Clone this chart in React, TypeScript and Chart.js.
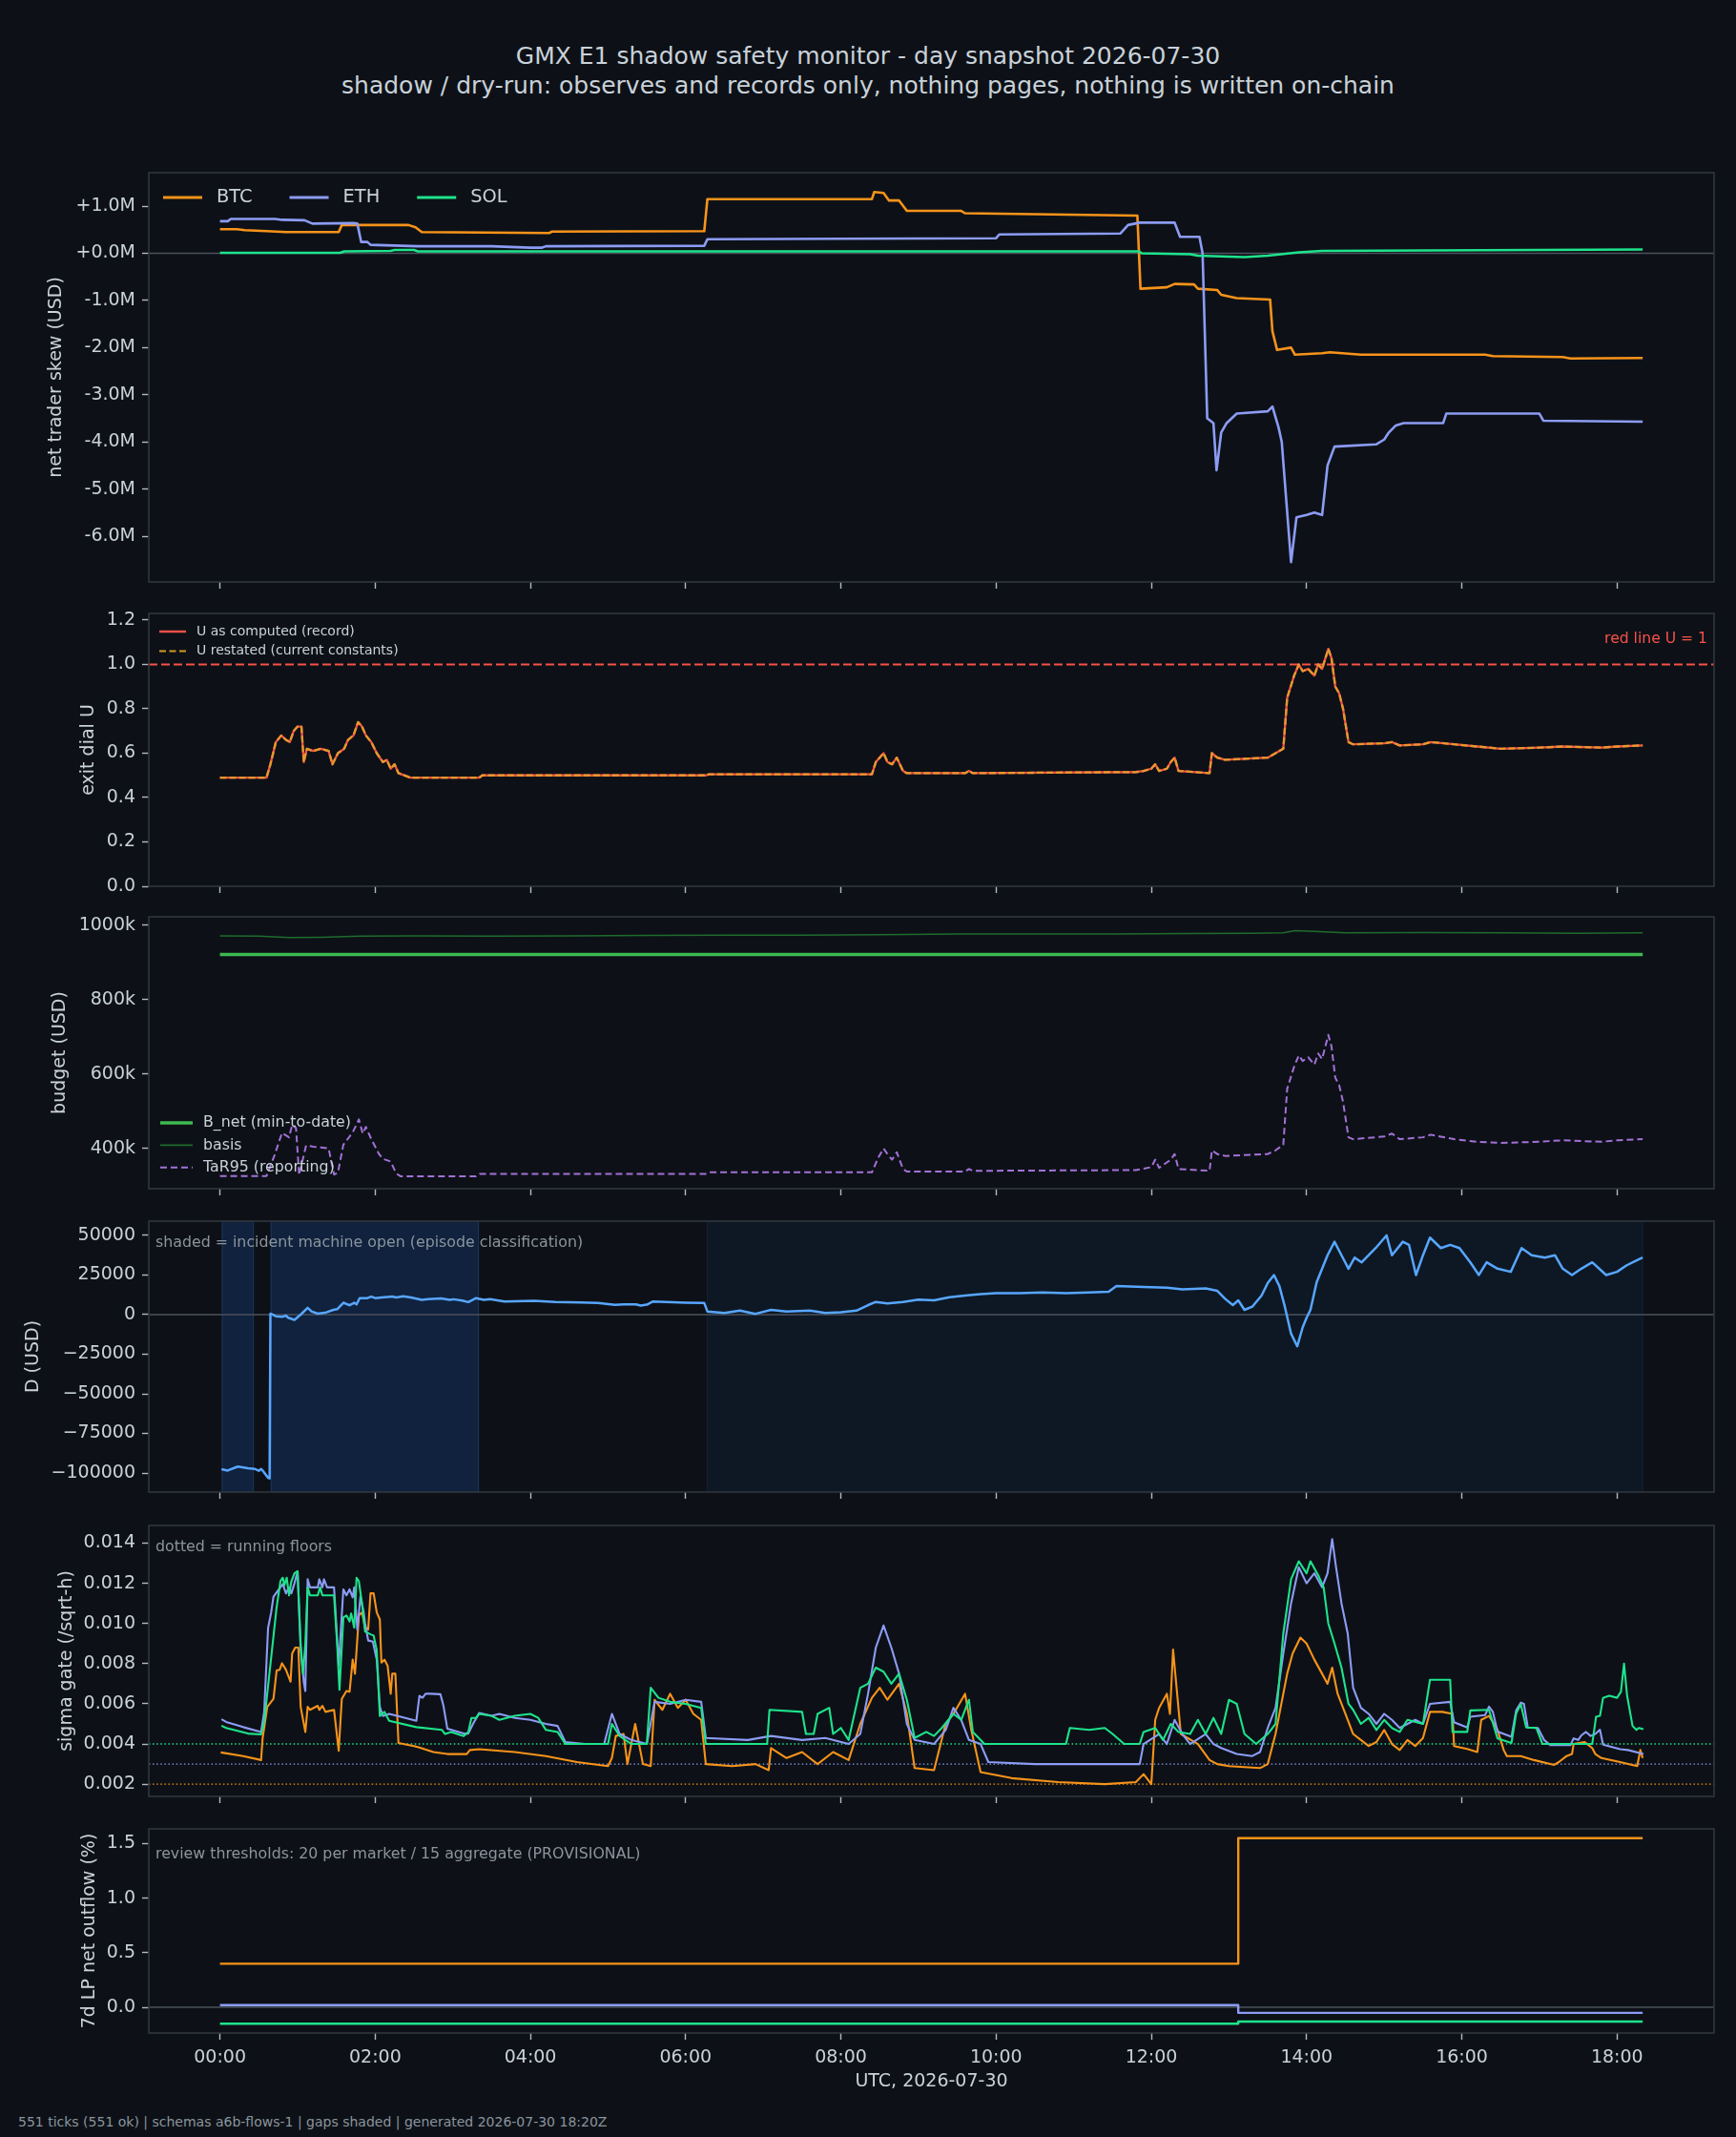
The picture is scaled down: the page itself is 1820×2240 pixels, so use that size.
import React, { useEffect, useRef } from 'react';
import { Chart, registerables } from 'chart.js';

Chart.register(...registerables);

type Pt = [number, number];

// ---------------------------------------------------------------------------
// data: x = hours since 00:00 UTC on 2026-07-30
// ---------------------------------------------------------------------------
const HOUR_TICKS = [0, 2, 4, 6, 8, 10, 12, 14, 16, 18];
const HOUR_LABELS = ['00:00', '02:00', '04:00', '06:00', '08:00', '10:00', '12:00', '14:00', '16:00', '18:00'];

// net trader skew, $M
const SKEW_TICKS = [-6, -5, -4, -3, -2, -1, 0, 1];
const SKEW_BTC: Pt[] = [
  [0, 0.51], [0.22, 0.51], [0.32, 0.49], [0.6, 0.47], [0.85, 0.45], [1.53, 0.45], [1.57, 0.6], [2.43, 0.6],
  [2.52, 0.55], [2.6, 0.45], [4.24, 0.43], [4.28, 0.46], [6.24, 0.47], [6.28, 1.15], [8.4, 1.15], [8.43, 1.3],
  [8.55, 1.28], [8.62, 1.12], [8.75, 1.12], [8.85, 0.9], [9.55, 0.9], [9.6, 0.85], [11.82, 0.8], [11.86, -0.75],
  [12.2, -0.72], [12.3, -0.65], [12.55, -0.66], [12.6, -0.75], [12.85, -0.78], [12.9, -0.88], [13.1, -0.95],
  [13.53, -0.98], [13.56, -1.65], [13.62, -2.05], [13.8, -2.0], [13.85, -2.15], [14.2, -2.12], [14.3, -2.1],
  [14.7, -2.15], [16.3, -2.15], [16.4, -2.18], [17.3, -2.2], [17.4, -2.23], [18.33, -2.22],
];
const SKEW_ETH: Pt[] = [
  [0, 0.68], [0.1, 0.68], [0.14, 0.73], [0.71, 0.73], [0.8, 0.71], [1.09, 0.7], [1.19, 0.63], [1.72, 0.64],
  [1.77, 0.63], [1.82, 0.24], [1.9, 0.24], [1.94, 0.18], [2.55, 0.15], [3.5, 0.15], [4.0, 0.12], [4.15, 0.12],
  [4.2, 0.15], [6.24, 0.16], [6.28, 0.3], [8.0, 0.31], [10.0, 0.32], [10.04, 0.4], [11.6, 0.42], [11.7, 0.6],
  [11.85, 0.65], [12.3, 0.65], [12.37, 0.35], [12.62, 0.35], [12.66, 0.0], [12.72, -3.5], [12.8, -3.6],
  [12.84, -4.6], [12.9, -3.8], [12.97, -3.6], [13.1, -3.4], [13.5, -3.35], [13.56, -3.25], [13.64, -3.7],
  [13.68, -4.0], [13.8, -6.55], [13.87, -5.6], [14.0, -5.55], [14.1, -5.5], [14.2, -5.55], [14.27, -4.5],
  [14.36, -4.1], [14.9, -4.05], [15.0, -3.95], [15.06, -3.8], [15.15, -3.65], [15.25, -3.6], [15.76, -3.6],
  [15.8, -3.4], [17.0, -3.4], [17.05, -3.55], [18.33, -3.57],
];
const SKEW_SOL: Pt[] = [
  [0, 0.01], [1.55, 0.01], [1.6, 0.04], [2.2, 0.05], [2.25, 0.07], [2.5, 0.07], [2.55, 0.04], [11.84, 0.04],
  [11.88, 0.0], [12.5, -0.02], [12.6, -0.05], [13.2, -0.08], [13.5, -0.05], [13.9, 0.02], [14.2, 0.05],
  [18.33, 0.08],
];

// exit dial U
const U_TICKS = [0, 0.2, 0.4, 0.6, 0.8, 1.0, 1.2];
const U_RED_LINE = 1.0;
const U_COMPUTED: Pt[] = [
  [0, 0.49], [0.6, 0.49], [0.65, 0.55], [0.72, 0.65], [0.79, 0.68], [0.85, 0.66], [0.9, 0.65], [0.95, 0.7],
  [1.0, 0.72], [1.05, 0.72], [1.08, 0.56], [1.12, 0.62], [1.2, 0.61], [1.3, 0.62], [1.4, 0.61], [1.45, 0.55],
  [1.52, 0.6], [1.6, 0.62], [1.65, 0.66], [1.72, 0.68], [1.78, 0.74], [1.83, 0.72], [1.88, 0.68], [1.95, 0.65],
  [2.02, 0.6], [2.1, 0.56], [2.15, 0.57], [2.2, 0.53], [2.25, 0.55], [2.3, 0.51], [2.45, 0.49], [3.34, 0.49],
  [3.38, 0.5], [6.26, 0.5], [6.3, 0.505], [8.4, 0.505], [8.45, 0.56], [8.55, 0.6], [8.6, 0.56], [8.66, 0.55],
  [8.72, 0.58], [8.8, 0.52], [8.85, 0.51], [9.6, 0.51], [9.65, 0.52], [9.7, 0.51], [11.8, 0.515], [11.9, 0.52],
  [12.0, 0.53], [12.05, 0.55], [12.1, 0.52], [12.2, 0.53], [12.25, 0.56], [12.3, 0.58], [12.35, 0.52],
  [12.75, 0.51], [12.78, 0.6], [12.85, 0.58], [12.95, 0.57], [13.5, 0.58], [13.6, 0.6], [13.7, 0.62],
  [13.75, 0.85], [13.84, 0.95], [13.9, 1.0], [13.95, 0.97], [14.02, 0.98], [14.1, 0.95], [14.15, 1.0],
  [14.2, 0.98], [14.28, 1.07], [14.32, 1.03], [14.37, 0.9], [14.42, 0.87], [14.47, 0.8], [14.54, 0.65],
  [14.6, 0.64], [15.0, 0.645], [15.1, 0.65], [15.2, 0.635], [15.5, 0.64], [15.6, 0.65], [15.9, 0.64],
  [16.2, 0.63], [16.5, 0.62], [17.0, 0.625], [17.3, 0.63], [17.8, 0.625], [18.0, 0.63], [18.33, 0.635],
];
const U_RESTATED: Pt[] = U_COMPUTED;

// budget, $k
const BUDGET_TICKS = [400, 600, 800, 1000];
const B_NET: Pt[] = [[0, 921], [18.33, 921]];
const BASIS: Pt[] = [
  [0, 971], [0.5, 970], [0.9, 966], [1.3, 967], [1.8, 970], [2.5, 971], [3.5, 970], [4.5, 971], [5.5, 972],
  [6.5, 973], [7.5, 973], [8.5, 974], [9.5, 976], [10.5, 976], [11.5, 976], [12.5, 977], [13.3, 978],
  [13.7, 979], [13.85, 985], [14.1, 983], [14.5, 979], [15.5, 980], [16.5, 979], [17.5, 978], [18.33, 979],
];
const TAR95: Pt[] = [
  [0, 326], [0.6, 326], [0.7, 380], [0.8, 442], [0.89, 430], [0.93, 463], [0.98, 455], [1.02, 329],
  [1.11, 408], [1.2, 405], [1.3, 403], [1.4, 400], [1.47, 330], [1.52, 335], [1.59, 410], [1.71, 443],
  [1.79, 478], [1.84, 440], [1.88, 458], [1.95, 425], [2.05, 385], [2.1, 372], [2.2, 365], [2.27, 333],
  [2.33, 325], [3.3, 325], [3.35, 332], [6.26, 332], [6.3, 336], [8.4, 336], [8.48, 375], [8.55, 400],
  [8.6, 385], [8.66, 370], [8.72, 390], [8.8, 345], [8.85, 338], [9.6, 338], [9.65, 345], [9.7, 340],
  [11.8, 342], [12.0, 350], [12.05, 370], [12.1, 348], [12.25, 370], [12.3, 385], [12.35, 345], [12.75, 340],
  [12.78, 395], [12.85, 385], [12.95, 380], [13.5, 385], [13.6, 395], [13.7, 410], [13.75, 560], [13.84, 620],
  [13.9, 650], [13.95, 635], [14.02, 645], [14.1, 625], [14.15, 655], [14.2, 640], [14.28, 705], [14.32, 675],
  [14.37, 590], [14.42, 570], [14.47, 525], [14.54, 430], [14.6, 425], [15.0, 432], [15.1, 440], [15.2, 425],
  [15.5, 430], [15.6, 437], [15.9, 425], [16.2, 418], [16.5, 415], [17.0, 418], [17.3, 422], [17.8, 418],
  [18.0, 422], [18.33, 425],
];

// D, USD
const D_TICKS = [-100000, -75000, -50000, -25000, 0, 25000, 50000];
const D_VALUES: Pt[] = [
  [0.02, -97500], [0.1, -98400], [0.23, -95900], [0.36, -97000], [0.45, -97400], [0.5, -98600], [0.53, -97400],
  [0.56, -99000], [0.62, -103000], [0.64, -103400], [0.65, 600], [0.72, -1000], [0.8, -1400], [0.85, -600],
  [0.88, -2000], [0.96, -3300], [1.04, 0], [1.13, 4300], [1.18, 2000], [1.26, 600], [1.37, 1400], [1.46, 3000],
  [1.51, 3400], [1.59, 7500], [1.67, 5900], [1.73, 7500], [1.76, 6500], [1.8, 10400], [1.9, 10400],
  [1.95, 11400], [2.0, 10400], [2.08, 10800], [2.16, 11200], [2.22, 11400], [2.27, 10800], [2.36, 11600],
  [2.46, 10800], [2.6, 9300], [2.68, 9800], [2.85, 10200], [2.96, 9300], [3.01, 9700], [3.12, 8900],
  [3.2, 7900], [3.3, 10400], [3.4, 9300], [3.48, 9800], [3.59, 8900], [3.67, 8300], [4.05, 8700],
  [4.32, 7900], [4.65, 7700], [4.87, 7300], [5.09, 6100], [5.2, 6500], [5.36, 6500], [5.42, 5700],
  [5.5, 6300], [5.58, 8300], [5.75, 7900], [6.0, 7500], [6.24, 7300], [6.28, 2000], [6.5, 1000],
  [6.7, 2500], [6.9, 500], [7.1, 3000], [7.3, 2000], [7.6, 2500], [7.8, 1000], [8.0, 1500], [8.2, 2500],
  [8.35, 6000], [8.45, 8000], [8.6, 7000], [8.8, 8000], [9.0, 9500], [9.2, 9000], [9.4, 11000], [9.6, 12000],
  [9.8, 13000], [10.0, 13500], [10.3, 13500], [10.6, 14000], [10.9, 13500], [11.2, 14000], [11.45, 14500],
  [11.55, 18000], [11.9, 17500], [12.2, 17000], [12.4, 16000], [12.7, 16500], [12.85, 15000], [12.95, 10000],
  [13.05, 6000], [13.12, 9000], [13.2, 3000], [13.3, 5000], [13.42, 12000], [13.5, 20000], [13.58, 25000],
  [13.65, 18000], [13.72, 5000], [13.8, -12000], [13.88, -20000], [13.95, -8000], [14.0, -2000], [14.05, 3000],
  [14.13, 20500], [14.27, 37500], [14.36, 46000], [14.45, 37500], [14.54, 29000], [14.62, 36000],
  [14.71, 33000], [14.89, 42000], [15.03, 50000], [15.1, 37500], [15.24, 46000], [15.32, 44000],
  [15.41, 25000], [15.5, 37500], [15.59, 48600], [15.73, 42000], [15.85, 44000], [15.97, 42000],
  [16.11, 33000], [16.22, 25000], [16.32, 33000], [16.46, 29000], [16.63, 27000], [16.77, 42000],
  [16.9, 37500], [17.07, 36000], [17.2, 37500], [17.3, 29000], [17.42, 25000], [17.54, 29000], [17.68, 33000],
  [17.86, 25000], [18.0, 27000], [18.12, 31000], [18.24, 34000], [18.33, 36000],
];
// incident machine open, [from, to] hours
const INCIDENT_OPEN: Pt[] = [[0.03, 0.43], [0.66, 3.33]];
const INCIDENT_WATCH: Pt[] = [[6.28, 18.33]];

// sigma gate, /sqrt-h
const SIGMA_TICKS = [0.002, 0.004, 0.006, 0.008, 0.01, 0.012, 0.014];
const FLOOR_BTC = 0.002;
const FLOOR_ETH = 0.003;
const FLOOR_SOL = 0.004;
const SIGMA_BTC: Pt[] = [
  [0.01, 0.00358], [0.3, 0.0034], [0.53, 0.0032], [0.55, 0.0043], [0.61, 0.00585], [0.69, 0.00625],
  [0.73, 0.00766], [0.77, 0.0077], [0.8, 0.00802], [0.85, 0.0077], [0.91, 0.0071], [0.93, 0.0085],
  [0.97, 0.0088], [1.01, 0.0088], [1.04, 0.00585], [1.1, 0.0046], [1.13, 0.00585], [1.16, 0.0057],
  [1.26, 0.0059], [1.28, 0.0057], [1.32, 0.0059], [1.36, 0.0056], [1.47, 0.0057], [1.53, 0.00366],
  [1.57, 0.00625], [1.63, 0.00664], [1.67, 0.0066], [1.71, 0.0082], [1.74, 0.0075], [1.79, 0.0104],
  [1.83, 0.01055], [1.87, 0.0098], [1.91, 0.0097], [1.94, 0.0115], [1.98, 0.0115], [2.02, 0.01055],
  [2.06, 0.0102], [2.08, 0.00805], [2.12, 0.0082], [2.16, 0.0079], [2.2, 0.0065], [2.22, 0.0075],
  [2.26, 0.0075], [2.3, 0.00405], [2.5, 0.0039], [2.57, 0.00382], [2.75, 0.0036], [2.93, 0.0035],
  [3.18, 0.0035], [3.22, 0.0037], [3.34, 0.00374], [3.8, 0.0036], [4.2, 0.0034], [4.6, 0.0031],
  [5.0, 0.0029], [5.05, 0.0033], [5.1, 0.0044], [5.2, 0.0045], [5.25, 0.003], [5.35, 0.005], [5.45, 0.003],
  [5.55, 0.0029], [5.6, 0.0062], [5.7, 0.0057], [5.8, 0.0065], [5.9, 0.0058], [6.0, 0.0062], [6.1, 0.0055],
  [6.2, 0.0052], [6.26, 0.003], [6.6, 0.0029], [6.9, 0.003], [7.07, 0.0027], [7.1, 0.0038], [7.3, 0.0033],
  [7.5, 0.0036], [7.7, 0.003], [7.9, 0.0036], [8.1, 0.0032], [8.25, 0.005], [8.4, 0.0063], [8.5, 0.0068],
  [8.6, 0.0062], [8.75, 0.007], [8.85, 0.0055], [8.95, 0.0028], [9.2, 0.0027], [9.35, 0.005], [9.45, 0.0055],
  [9.6, 0.0065], [9.68, 0.0047], [9.8, 0.0026], [10.2, 0.0023], [10.8, 0.0021], [11.4, 0.002], [11.8, 0.0021],
  [11.9, 0.0025], [12.0, 0.002], [12.05, 0.0052], [12.1, 0.0058], [12.2, 0.0065], [12.24, 0.0055],
  [12.28, 0.0087], [12.38, 0.0045], [12.6, 0.004], [12.75, 0.0032], [12.85, 0.003], [13.0, 0.0029],
  [13.4, 0.0028], [13.5, 0.003], [13.6, 0.0045], [13.75, 0.0075], [13.82, 0.0085], [13.92, 0.0093],
  [14.0, 0.009], [14.1, 0.0082], [14.2, 0.0075], [14.27, 0.007], [14.33, 0.0078], [14.4, 0.0065],
  [14.5, 0.0055], [14.6, 0.0045], [14.7, 0.0042], [14.8, 0.0039], [14.9, 0.0041], [15.0, 0.0047],
  [15.1, 0.004], [15.2, 0.0037], [15.3, 0.0042], [15.4, 0.0039], [15.5, 0.0043], [15.59, 0.0056],
  [15.75, 0.0056], [15.88, 0.0055], [15.9, 0.0039], [16.07, 0.00375], [16.2, 0.0036], [16.25, 0.0052],
  [16.35, 0.0054], [16.4, 0.0051], [16.46, 0.0047], [16.54, 0.0037], [16.58, 0.0034], [16.76, 0.0034],
  [16.93, 0.0032], [17.19, 0.00296], [17.25, 0.0031], [17.35, 0.0034], [17.42, 0.0035], [17.44, 0.004],
  [17.58, 0.0041], [17.68, 0.0038], [17.72, 0.0035], [17.8, 0.0033], [18.04, 0.0031], [18.26, 0.0029],
  [18.3, 0.0037], [18.33, 0.0033],
];
const SIGMA_ETH: Pt[] = [
  [0.02, 0.00523], [0.08, 0.0051], [0.3, 0.00484], [0.53, 0.0046], [0.57, 0.0056], [0.62, 0.00977],
  [0.66, 0.01055], [0.69, 0.01134], [0.75, 0.01165], [0.81, 0.01196], [0.85, 0.0115], [0.89, 0.0118],
  [0.92, 0.0115], [0.96, 0.012], [1.0, 0.0126], [1.04, 0.00867], [1.08, 0.0071], [1.1, 0.00664], [1.13, 0.0122],
  [1.16, 0.0118], [1.26, 0.0118], [1.28, 0.0122], [1.32, 0.0118], [1.34, 0.0122], [1.38, 0.0118],
  [1.47, 0.0118], [1.53, 0.0079], [1.59, 0.0117], [1.63, 0.0114], [1.67, 0.0117], [1.71, 0.0113],
  [1.73, 0.0118], [1.77, 0.0097], [1.81, 0.01134], [1.85, 0.0106], [1.87, 0.01], [1.91, 0.00915],
  [1.97, 0.0091], [2.02, 0.0082], [2.06, 0.00585], [2.1, 0.00539], [2.18, 0.0055], [2.28, 0.0054],
  [2.53, 0.00515], [2.57, 0.0064], [2.61, 0.0063], [2.65, 0.0065], [2.71, 0.0065], [2.84, 0.00648],
  [2.88, 0.0059], [2.93, 0.00476], [3.14, 0.00452], [3.2, 0.00452], [3.26, 0.005], [3.34, 0.00554],
  [3.5, 0.0054], [3.6, 0.0055], [3.8, 0.0053], [4.0, 0.0052], [4.2, 0.005], [4.35, 0.0049], [4.45, 0.0041],
  [4.7, 0.004], [4.95, 0.004], [5.05, 0.0055], [5.15, 0.0045], [5.3, 0.0042], [5.5, 0.004], [5.6, 0.0061],
  [5.8, 0.006], [6.0, 0.0062], [6.2, 0.0061], [6.26, 0.0043], [6.8, 0.0042], [7.1, 0.0044], [7.5, 0.0042],
  [7.8, 0.0043], [8.1, 0.004], [8.25, 0.0045], [8.35, 0.0065], [8.45, 0.0088], [8.55, 0.0099],
  [8.65, 0.0088], [8.75, 0.0075], [8.85, 0.005], [8.95, 0.0042], [9.2, 0.004], [9.35, 0.0047],
  [9.45, 0.0058], [9.55, 0.0052], [9.65, 0.0042], [9.8, 0.004], [9.9, 0.0031], [10.5, 0.003], [11.0, 0.003],
  [11.5, 0.003], [11.85, 0.003], [11.9, 0.004], [12.1, 0.0045], [12.2, 0.004], [12.3, 0.0052], [12.4, 0.0045],
  [12.5, 0.004], [12.7, 0.0045], [12.8, 0.004], [12.9, 0.0038], [13.1, 0.0035], [13.3, 0.0034],
  [13.4, 0.0036], [13.5, 0.0048], [13.6, 0.0058], [13.7, 0.0085], [13.8, 0.011], [13.9, 0.0128],
  [14.0, 0.012], [14.1, 0.0125], [14.2, 0.0118], [14.27, 0.0125], [14.33, 0.0142], [14.38, 0.0128],
  [14.45, 0.011], [14.53, 0.0095], [14.6, 0.0068], [14.7, 0.0058], [14.8, 0.0055], [14.9, 0.005],
  [15.0, 0.0055], [15.1, 0.0052], [15.2, 0.0048], [15.3, 0.005], [15.4, 0.0052], [15.5, 0.005],
  [15.59, 0.006], [15.85, 0.0061], [15.9, 0.00508], [16.07, 0.00482], [16.11, 0.00536], [16.3, 0.00544],
  [16.35, 0.00586], [16.4, 0.0056], [16.46, 0.00462], [16.64, 0.00436], [16.7, 0.00567], [16.76, 0.00606],
  [16.8, 0.006], [16.85, 0.00482], [16.98, 0.0048], [17.06, 0.0042], [17.14, 0.00394], [17.4, 0.00394],
  [17.44, 0.00428], [17.5, 0.0042], [17.54, 0.00443], [17.6, 0.0046], [17.66, 0.0044], [17.72, 0.0045],
  [17.78, 0.00471], [17.82, 0.00397], [18.04, 0.00374], [18.14, 0.0037], [18.34, 0.0035],
];
const SIGMA_SOL: Pt[] = [
  [0.02, 0.00491], [0.08, 0.0048], [0.36, 0.00452], [0.53, 0.00448], [0.57, 0.0051], [0.73, 0.0108],
  [0.78, 0.01212], [0.81, 0.01228], [0.83, 0.0119], [0.86, 0.01228], [0.89, 0.0114], [0.92, 0.0121],
  [0.96, 0.0125], [1.0, 0.0126], [1.04, 0.00898], [1.07, 0.0075], [1.1, 0.00898], [1.13, 0.0118],
  [1.16, 0.0114], [1.26, 0.0114], [1.29, 0.0118], [1.32, 0.0114], [1.47, 0.0114], [1.51, 0.00898],
  [1.54, 0.0067], [1.59, 0.0103], [1.63, 0.0104], [1.67, 0.0101], [1.69, 0.0105], [1.73, 0.0098],
  [1.76, 0.01228], [1.79, 0.0121], [1.83, 0.011], [1.87, 0.0096], [1.94, 0.00946], [1.98, 0.0094],
  [2.02, 0.00867], [2.06, 0.00539], [2.12, 0.0056], [2.18, 0.00515], [2.53, 0.00484], [2.86, 0.0047],
  [2.9, 0.0045], [2.98, 0.0046], [3.14, 0.0044], [3.2, 0.0046], [3.24, 0.0053], [3.3, 0.0053],
  [3.34, 0.0055], [3.5, 0.0054], [3.6, 0.0052], [3.8, 0.0054], [4.0, 0.0055], [4.1, 0.0053], [4.2, 0.0047],
  [4.35, 0.0046], [4.45, 0.004], [5.0, 0.004], [5.05, 0.005], [5.15, 0.0044], [5.3, 0.004], [5.5, 0.004],
  [5.55, 0.0068], [5.65, 0.0063], [5.8, 0.0061], [6.0, 0.006], [6.2, 0.0058], [6.26, 0.004], [7.05, 0.004],
  [7.08, 0.0057], [7.5, 0.0056], [7.55, 0.0045], [7.65, 0.0045], [7.7, 0.0055], [7.85, 0.0058],
  [7.9, 0.0045], [8.0, 0.0048], [8.1, 0.0042], [8.25, 0.0068], [8.35, 0.007], [8.45, 0.0078], [8.55, 0.0076],
  [8.65, 0.007], [8.75, 0.0075], [8.85, 0.0062], [8.95, 0.0043], [9.1, 0.0046], [9.2, 0.0044], [9.3, 0.0048],
  [9.45, 0.0055], [9.55, 0.0052], [9.65, 0.0062], [9.7, 0.0046], [9.85, 0.004], [10.9, 0.004],
  [10.95, 0.0048], [11.2, 0.0047], [11.4, 0.0048], [11.5, 0.0045], [11.65, 0.004], [11.85, 0.004],
  [11.9, 0.0046], [12.05, 0.0048], [12.15, 0.0042], [12.25, 0.005], [12.35, 0.0046], [12.5, 0.0045],
  [12.6, 0.0052], [12.7, 0.0045], [12.8, 0.0053], [12.9, 0.0045], [13.0, 0.0062], [13.1, 0.006],
  [13.2, 0.0045], [13.35, 0.004], [13.5, 0.0045], [13.6, 0.005], [13.7, 0.0095], [13.8, 0.0122],
  [13.9, 0.0131], [14.0, 0.0125], [14.05, 0.0131], [14.15, 0.0124], [14.22, 0.0118], [14.28, 0.01],
  [14.36, 0.009], [14.45, 0.0078], [14.54, 0.006], [14.6, 0.0057], [14.7, 0.005], [14.8, 0.0053],
  [14.9, 0.0047], [15.0, 0.0052], [15.1, 0.0048], [15.2, 0.0046], [15.3, 0.0052], [15.5, 0.005],
  [15.59, 0.0072], [15.85, 0.0072], [15.88, 0.0046], [16.07, 0.0046], [16.11, 0.00567], [16.35, 0.0057],
  [16.46, 0.00428], [16.64, 0.00405], [16.7, 0.00552], [16.76, 0.00598], [16.83, 0.00482], [16.96, 0.0048],
  [17.04, 0.004], [17.68, 0.004], [17.73, 0.00536], [17.78, 0.0054], [17.82, 0.0063], [17.9, 0.0064],
  [18.0, 0.0063], [18.05, 0.0066], [18.09, 0.008], [18.13, 0.0064], [18.2, 0.0049], [18.25, 0.0047],
  [18.28, 0.0048], [18.34, 0.00474],
];

// 7d LP net outflow, %
const OUTFLOW_TICKS = [0, 0.5, 1.0, 1.5];
const OUTFLOW_BTC: Pt[] = [[0, 0.4], [13.12, 0.4], [13.12, 1.55], [18.33, 1.55]];
const OUTFLOW_ETH: Pt[] = [[0, 0.02], [13.12, 0.02], [13.12, -0.05], [18.33, -0.05]];
const OUTFLOW_SOL: Pt[] = [[0, -0.15], [13.12, -0.15], [13.12, -0.13], [18.33, -0.13]];

// ---------------------------------------------------------------------------
// look and layout
// ---------------------------------------------------------------------------
const W = 1820;
const H = 2240;
const PLOT_L = 156;
const PLOT_R = 1797;
const PAD_T = 30;
const X_MIN = -0.9167;
const X_MAX = 19.25;
const FONT = '"DejaVu Sans", "Liberation Sans", sans-serif';
const TICK_SIZE = 19;

const BG = '#0d1117';
const SPINE = '#30363d';
const TEXT = '#c9d1d9';
const MUTED = '#8b949e';
const TICK = '#b1bac4';
const ZERO = '#4b525c';
const C_BTC = '#f7931a';
const C_ETH = '#8c9cf5';
const C_SOL = '#1ee38c';
const C_RED = '#f85149';
const C_GOLD = '#d29922';
const C_BNET = '#3fb950';
const C_BASIS = '#1f6b2d';
const C_TAR = '#a371d8';
const C_D = '#58a6ff';

type Series = { data: Pt[]; color: string; width: number; dash?: number[] };
type HLine = { y: number; color: string; width: number; dash?: number[] };
type Span = { range: Pt; fill: string; edge: string };
type LegendItem = { label: string; color: string; width: number; dash?: number[] };
type Legend = {
  items: LegendItem[]; x: number; y: number; size: number; handle: number; textPad: number;
  rowGap?: number; colGap?: number; horizontal?: boolean;
};
type Note = { text: string; x: number; y: number; color: string; size: number; align: CanvasTextAlign };
type Panel = {
  key: string; top: number; bottom: number; yMin: number; yMax: number; yTicks: number[];
  fmt: (v: number) => string; yTitle: string; yTitleX: number; series: Series[];
  hlines?: HLine[]; spans?: Span[]; legend?: Legend; notes?: Note[]; xLabels: boolean; xAxisH: number;
};

const minus = (s: string) => s.replace('-', '\u2212');

const PANELS: Panel[] = [
  {
    key: 'skew', top: 181, bottom: 610, yMin: -6.97, yMax: 1.71, yTicks: SKEW_TICKS,
    fmt: (v) => `${v >= 0 ? '+' : '-'}${Math.abs(v).toFixed(1)}M`,
    yTitle: 'net trader skew (USD)', yTitleX: 59,
    series: [
      { data: SKEW_BTC, color: C_BTC, width: 2.6 },
      { data: SKEW_ETH, color: C_ETH, width: 2.6 },
      { data: SKEW_SOL, color: C_SOL, width: 2.6 },
    ],
    hlines: [{ y: 0, color: ZERO, width: 1.5 }],
    legend: {
      items: [
        { label: 'BTC', color: C_BTC, width: 2.8 },
        { label: 'ETH', color: C_ETH, width: 2.8 },
        { label: 'SOL', color: C_SOL, width: 2.8 },
      ],
      x: 171, y: 207, size: 19.4, handle: 41, textPad: 15, colGap: 39, horizontal: true,
    },
    xLabels: false, xAxisH: 26,
  },
  {
    key: 'u', top: 643, bottom: 929, yMin: 0, yMax: 1.23, yTicks: U_TICKS,
    fmt: (v) => v.toFixed(1), yTitle: 'exit dial U', yTitleX: 93,
    series: [
      { data: U_COMPUTED, color: C_RED, width: 2.3 },
      { data: U_RESTATED, color: '#e39a2c', width: 2.3, dash: [7, 3] },
    ],
    hlines: [{ y: U_RED_LINE, color: C_RED, width: 1.8, dash: [9, 4] }],
    legend: {
      items: [
        { label: 'U as computed (record)', color: C_RED, width: 2.4 },
        { label: 'U restated (current constants)', color: C_GOLD, width: 2, dash: [7, 3.5] },
      ],
      x: 167, y: 662, size: 14, handle: 28, textPad: 11, rowGap: 20.4,
    },
    notes: [{ text: 'red line U = 1', x: 1790, y: 670, color: C_RED, size: 15.6, align: 'right' }],
    xLabels: false, xAxisH: 26,
  },
  {
    key: 'budget', top: 961, bottom: 1246, yMin: 292, yMax: 1022, yTicks: BUDGET_TICKS,
    fmt: (v) => `${v}k`, yTitle: 'budget (USD)', yTitleX: 63,
    series: [
      { data: B_NET, color: C_BNET, width: 3.6 },
      { data: BASIS, color: C_BASIS, width: 1.5 },
      { data: TAR95, color: C_TAR, width: 2, dash: [7, 4] },
    ],
    legend: {
      items: [
        { label: 'B_net (min-to-date)', color: C_BNET, width: 3.6 },
        { label: 'basis', color: C_BASIS, width: 1.6 },
        { label: 'TaR95 (reporting)', color: C_TAR, width: 2, dash: [7, 4] },
      ],
      x: 168, y: 1177, size: 15.8, handle: 34, textPad: 11, rowGap: 23.4,
    },
    xLabels: false, xAxisH: 26,
  },
  {
    key: 'd', top: 1280, bottom: 1564, yMin: -112000, yMax: 59000, yTicks: D_TICKS,
    fmt: (v) => minus(String(v)), yTitle: 'D (USD)', yTitleX: 35,
    series: [{ data: D_VALUES, color: C_D, width: 2.5 }],
    hlines: [{ y: 0, color: ZERO, width: 1.5 }],
    spans: [
      ...INCIDENT_OPEN.map((r) => ({ range: r, fill: '#10223d', edge: '#1a3358' })),
      ...INCIDENT_WATCH.map((r) => ({ range: r, fill: '#0d1824', edge: '#122133' })),
    ],
    notes: [{
      text: 'shaded = incident machine open (episode classification)', x: 163, y: 1303,
      color: MUTED, size: 15.8, align: 'left',
    }],
    xLabels: false, xAxisH: 26,
  },
  {
    key: 'sigma', top: 1599, bottom: 1883, yMin: 0.00139, yMax: 0.01488, yTicks: SIGMA_TICKS,
    fmt: (v) => v.toFixed(3), yTitle: 'sigma gate (/sqrt-h)', yTitleX: 70,
    series: [
      { data: SIGMA_BTC, color: C_BTC, width: 2.1 },
      { data: SIGMA_ETH, color: C_ETH, width: 2.1 },
      { data: SIGMA_SOL, color: C_SOL, width: 2.1 },
    ],
    hlines: [
      { y: FLOOR_SOL, color: C_SOL, width: 1.4, dash: [1.5, 2.6] },
      { y: FLOOR_ETH, color: C_ETH, width: 1.4, dash: [1.5, 2.6] },
      { y: FLOOR_BTC, color: C_BTC, width: 1.4, dash: [1.5, 2.6] },
    ],
    notes: [{ text: 'dotted = running floors', x: 163, y: 1622, color: MUTED, size: 15.8, align: 'left' }],
    xLabels: false, xAxisH: 26,
  },
  {
    key: 'outflow', top: 1917, bottom: 2131, yMin: -0.235, yMax: 1.635, yTicks: OUTFLOW_TICKS,
    fmt: (v) => v.toFixed(1), yTitle: '7d LP net outflow (%)', yTitleX: 94,
    series: [
      { data: OUTFLOW_BTC, color: C_BTC, width: 2.4 },
      { data: OUTFLOW_ETH, color: C_ETH, width: 2.4 },
      { data: OUTFLOW_SOL, color: C_SOL, width: 2.4 },
    ],
    hlines: [{ y: 0, color: ZERO, width: 1.5 }],
    notes: [{
      text: 'review thresholds: 20 per market / 15 aggregate (PROVISIONAL)', x: 163, y: 1944,
      color: MUTED, size: 15.8, align: 'left',
    }],
    xLabels: true, xAxisH: 62,
  },
];

// ---------------------------------------------------------------------------
// drawing helpers
// ---------------------------------------------------------------------------
function makeDecor(p: Panel, canvasTop: number) {
  const toLocal = (yAbs: number) => yAbs - canvasTop;
  return {
    id: `decor-${p.key}`,
    beforeDatasetsDraw(chart: any) {
      const { ctx, chartArea: a } = chart;
      const xs = chart.scales.x;
      const ys = chart.scales.y;
      ctx.save();
      ctx.beginPath();
      ctx.rect(a.left, a.top, a.right - a.left, a.bottom - a.top);
      ctx.clip();
      for (const s of p.spans ?? []) {
        const x0 = xs.getPixelForValue(s.range[0]);
        const x1 = xs.getPixelForValue(s.range[1]);
        ctx.fillStyle = s.fill;
        ctx.fillRect(x0, a.top, x1 - x0, a.bottom - a.top);
        ctx.strokeStyle = s.edge;
        ctx.lineWidth = 1.2;
        ctx.beginPath();
        ctx.moveTo(x0, a.top); ctx.lineTo(x0, a.bottom);
        ctx.moveTo(x1, a.top); ctx.lineTo(x1, a.bottom);
        ctx.stroke();
      }
      for (const h of p.hlines ?? []) {
        const y = ys.getPixelForValue(h.y);
        ctx.strokeStyle = h.color;
        ctx.lineWidth = h.width;
        ctx.setLineDash(h.dash ?? []);
        ctx.beginPath();
        ctx.moveTo(a.left, y);
        ctx.lineTo(a.right, y);
        ctx.stroke();
      }
      ctx.restore();
    },
    afterDatasetsDraw(chart: any) {
      const { ctx, chartArea: a } = chart;
      ctx.save();
      ctx.strokeStyle = SPINE;
      ctx.lineWidth = 1.6;
      ctx.setLineDash([]);
      ctx.strokeRect(a.left, a.top, a.right - a.left, a.bottom - a.top);

      const lg = p.legend;
      if (lg) {
        ctx.font = `${lg.size}px ${FONT}`;
        ctx.textBaseline = 'middle';
        ctx.textAlign = 'left';
        let x = lg.x;
        let y = toLocal(lg.y);
        for (const it of lg.items) {
          ctx.strokeStyle = it.color;
          ctx.lineWidth = it.width;
          ctx.setLineDash(it.dash ?? []);
          ctx.beginPath();
          ctx.moveTo(x, y);
          ctx.lineTo(x + lg.handle, y);
          ctx.stroke();
          ctx.setLineDash([]);
          ctx.fillStyle = TEXT;
          const tx = x + lg.handle + lg.textPad;
          ctx.fillText(it.label, tx, y);
          if (lg.horizontal) {
            x = tx + ctx.measureText(it.label).width + (lg.colGap ?? 0);
          } else {
            y += lg.rowGap ?? 0;
          }
        }
      }
      for (const n of p.notes ?? []) {
        ctx.font = `${n.size}px ${FONT}`;
        ctx.textBaseline = 'middle';
        ctx.textAlign = n.align;
        ctx.fillStyle = n.color;
        ctx.fillText(n.text, n.x, toLocal(n.y));
      }
      ctx.restore();
    },
  };
}

function buildConfig(p: Panel, canvasTop: number): any {
  const tickFont = { family: FONT, size: TICK_SIZE };
  return {
    type: 'line',
    data: {
      // later series are painted over earlier ones
      datasets: p.series.map((s, i) => ({
        data: s.data.map(([x, y]) => ({ x, y })),
        order: -i,
        borderColor: s.color,
        borderWidth: s.width,
        borderDash: s.dash ?? [],
        borderCapStyle: 'butt',
        borderJoinStyle: 'round',
        pointRadius: 0,
        tension: 0,
        fill: false,
      })),
    },
    options: {
      responsive: false,
      maintainAspectRatio: false,
      animation: false,
      events: [],
      layout: { padding: { left: 0, right: W - PLOT_R, top: PAD_T, bottom: 0 } },
      plugins: { legend: { display: false }, tooltip: { enabled: false }, title: { display: false } },
      scales: {
        x: {
          type: 'linear',
          min: X_MIN,
          max: X_MAX,
          afterBuildTicks: (s: any) => { s.ticks = HOUR_TICKS.map((v) => ({ value: v })); },
          afterFit: (s: any) => { s.height = p.xAxisH; },
          border: { display: false },
          grid: { drawOnChartArea: false, drawTicks: true, tickLength: 7, tickColor: TICK, tickWidth: 1.4 },
          ticks: {
            display: p.xLabels, color: TEXT, font: tickFont, padding: 8, maxRotation: 0, autoSkip: false,
            callback: (_v: number, i: number) => HOUR_LABELS[i],
          },
          title: {
            display: p.xLabels, text: 'UTC, 2026-07-30', color: TEXT, font: tickFont,
            padding: { top: 0, bottom: 0 },
          },
        },
        y: {
          type: 'linear',
          position: 'left',
          min: p.yMin,
          max: p.yMax,
          afterBuildTicks: (s: any) => { s.ticks = p.yTicks.map((v) => ({ value: v })); },
          afterFit: (s: any) => { s.width = PLOT_L; },
          border: { display: false },
          grid: { drawOnChartArea: false, drawTicks: true, tickLength: 7, tickColor: TICK, tickWidth: 1.4 },
          ticks: {
            color: TEXT, font: tickFont, padding: 7, autoSkip: false,
            callback: (v: number) => p.fmt(v),
          },
          title: {
            display: true, text: p.yTitle, color: TEXT, font: tickFont,
            padding: { top: p.yTitleX - TICK_SIZE * 0.6, bottom: 0 },
          },
        },
      },
    },
    plugins: [makeDecor(p, canvasTop)],
  };
}

function PanelChart({ panel }: { panel: Panel }) {
  const ref = useRef<HTMLCanvasElement>(null);
  const top = panel.top - PAD_T;
  const height = PAD_T + (panel.bottom - panel.top) + panel.xAxisH;
  useEffect(() => {
    if (!ref.current) return;
    const chart = new Chart(ref.current, buildConfig(panel, top));
    return () => chart.destroy();
  }, [panel, top]);
  return (
    <canvas
      ref={ref}
      width={W}
      height={height}
      style={{ position: 'absolute', left: 0, top, width: W, height, display: 'block' }}
    />
  );
}

const textStyle = (top: number, size: number, color: string): React.CSSProperties => ({
  position: 'absolute', top: top - 15, left: 0, width: W, height: 30, lineHeight: '30px',
  fontFamily: FONT, fontSize: size, color, textAlign: 'center', whiteSpace: 'nowrap',
});

export default function App() {
  useEffect(() => {
    document.body.style.margin = '0';
    document.body.style.background = BG;
  }, []);
  return (
    <div style={{ position: 'relative', width: W, height: H, background: BG, overflow: 'hidden' }}>
      <div style={textStyle(59, 25, TEXT)}>GMX E1 shadow safety monitor - day snapshot 2026-07-30</div>
      <div style={textStyle(90, 25, TEXT)}>
        shadow / dry-run: observes and records only, nothing pages, nothing is written on-chain
      </div>
      {PANELS.map((p) => <PanelChart key={p.key} panel={p} />)}
      <div style={{ ...textStyle(2224, 14, MUTED), textAlign: 'left', left: 19 }}>
        551 ticks (551 ok) | schemas a6b-flows-1 | gaps shaded | generated 2026-07-30 18:20Z
      </div>
    </div>
  );
}
